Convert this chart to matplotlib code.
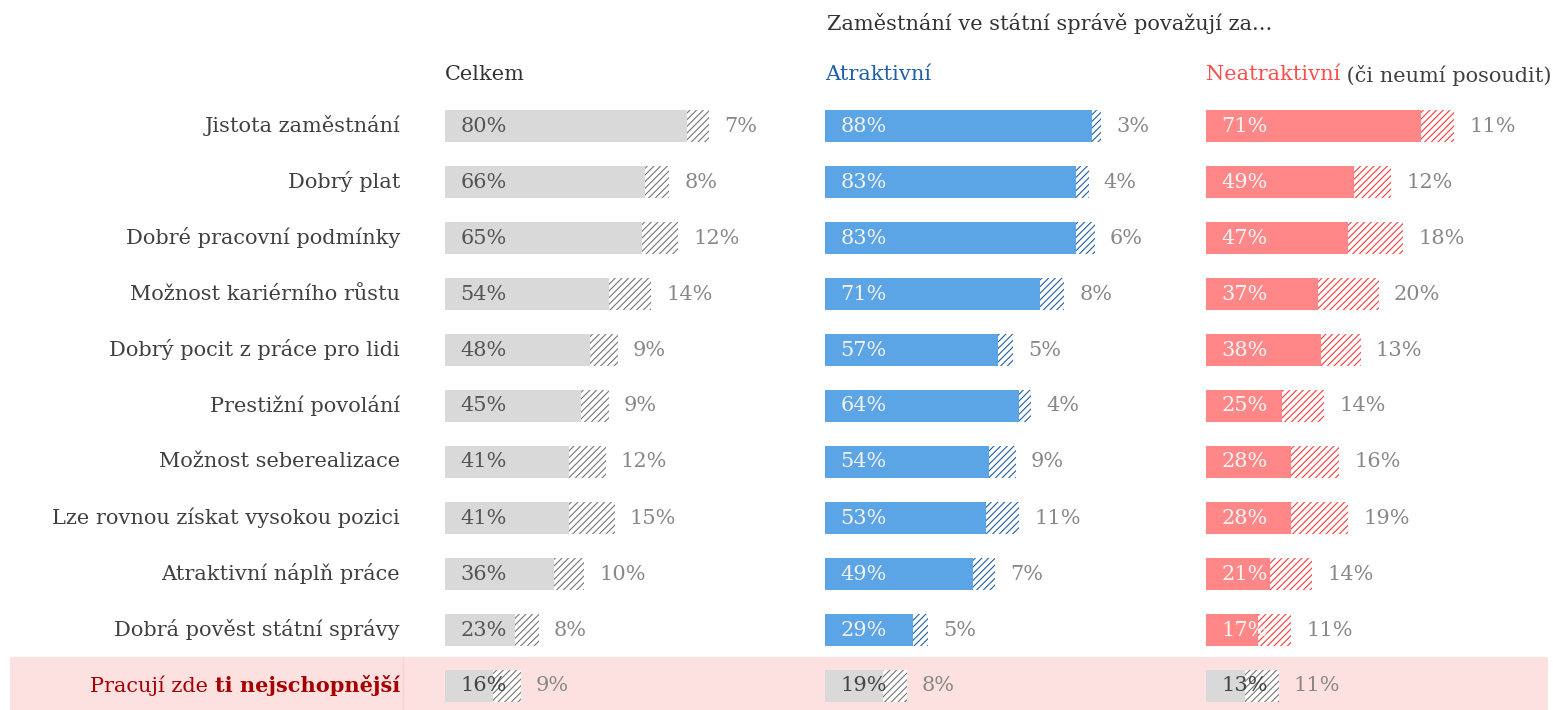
import matplotlib.pyplot as plt
import matplotlib.transforms as mtransforms
from matplotlib.patches import Rectangle

plt.rcParams['font.family'] = ['DejaVu Serif']
plt.rcParams['hatch.linewidth'] = 0.8

categories = ['Jistota zaměstnání', 'Dobrý plat', 'Dobré pracovní podmínky',
              'Možnost kariérního růstu', 'Dobrý pocit z práce pro lidi',
              'Prestižní povolání', 'Možnost seberealizace',
              'Lze rovnou získat vysokou pozici', 'Atraktivní náplň práce',
              'Dobrá pověst státní správy', 'Pracují zde ti nejschopnější']

celkem = [80, 66, 65, 54, 48, 45, 41, 41, 36, 23, 16]
celkem_extra = [7, 8, 12, 14, 9, 9, 12, 15, 10, 8, 9]
atrakt = [88, 83, 83, 71, 57, 64, 54, 53, 49, 29, 19]
atrakt_extra = [3, 4, 6, 8, 5, 4, 9, 11, 7, 5, 8]
neatrakt = [71, 49, 47, 37, 38, 25, 28, 28, 21, 17, 13]
neatrakt_extra = [11, 12, 18, 20, 13, 14, 16, 19, 14, 11, 11]

W, H = 1553, 710
FS = 15
fig = plt.figure(figsize=(W / 100, H / 100), dpi=100)

# pink band behind last row
fig.patches.append(Rectangle((10 / W, 0), 1538 / W, 53 / H, transform=fig.transFigure,
                             facecolor='#fde0e0', edgecolor='none', zorder=-2))
fig.lines.append(plt.Line2D([403 / W, 403 / W], [0, 53 / H], transform=fig.transFigure,
                            color='#f8d2d2', lw=1, zorder=-1))

gray, gray_h = '#d9d9d9', '#777777'
panels = [
    (445, celkem, celkem_extra, gray, gray_h, '#555555'),
    (825, atrakt, atrakt_extra, '#5ba4e6', '#1f5fa8', '#f2f2f2'),
    (1206, neatrakt, neatrakt_extra, '#ff8787', '#ff3b3b', '#f5f5f5'),
]

scale = 3.03  # px per percent
top = 98
n = len(categories)
axes = []
for left, vals, extra, col, hcol, tcol in panels:
    ax = fig.add_axes([left / W, 0, 100 * scale / W, (H - top) / H])
    ax.set_xlim(0, 100)
    ax.set_ylim(n - 1 + 24 / 56, -0.5)
    ax.axis('off')
    for i in range(n):
        last = i == n - 1
        c = gray if last else col
        h = gray_h if last else hcol
        tc = '#444444' if last else tcol
        ax.barh(i, vals[i], height=0.57, color=c, edgecolor='none', linewidth=0)
        ax.barh(i, extra[i], left=vals[i], height=0.57, color='white', edgecolor=h,
                hatch='/////', linewidth=0)
        ax.text(5, i, f'{vals[i]}%', va='center', ha='left', fontsize=FS, color=tc)
        ax.text(vals[i] + extra[i] + 5, i, f'{extra[i]}%', va='center', ha='left',
                fontsize=FS, color='#888888')
    axes.append(ax)

ax1 = axes[0]
lab_tr = mtransforms.blended_transform_factory(fig.transFigure, ax1.transData)
for i, cat in enumerate(categories[:-1]):
    ax1.text(400 / W, i, cat, transform=lab_tr, ha='right', va='center',
             fontsize=FS, color='#404040')

# last row label: normal + bold
fig.canvas.draw()
r = fig.canvas.get_renderer()
b = ax1.text(400 / W, n - 1, 'ti nejschopnější', transform=lab_tr, ha='right',
             va='center', fontsize=FS, color='#a50000', fontweight='bold')
bb = b.get_window_extent(r)
ax1.text(bb.x0 / W, n - 1, 'Pracují zde ', transform=lab_tr, ha='right',
         va='center', fontsize=FS, color='#a50000')

# headers
fig.text(445 / W, 1 - 75 / H, 'Celkem', fontsize=FS, color='#333333', va='center')
fig.text(825 / W, 1 - 75 / H, 'Atraktivní', fontsize=FS, color='#1f5fa8', va='center')
t = fig.text(1206 / W, 1 - 75 / H, 'Neatraktivní', fontsize=FS, color='#ff4d4d', va='center')
tb = t.get_window_extent(r)
fig.text(tb.x1 / W, 1 - 75 / H, ' (či neumí posoudit)', fontsize=FS, color='#404040',
         va='center')
fig.text(827 / W, 1 - 24 / H, 'Zaměstnání ve státní správě považují za...', fontsize=FS,
         color='#333333', va='center')

fig.savefig('out.png', dpi=100)
